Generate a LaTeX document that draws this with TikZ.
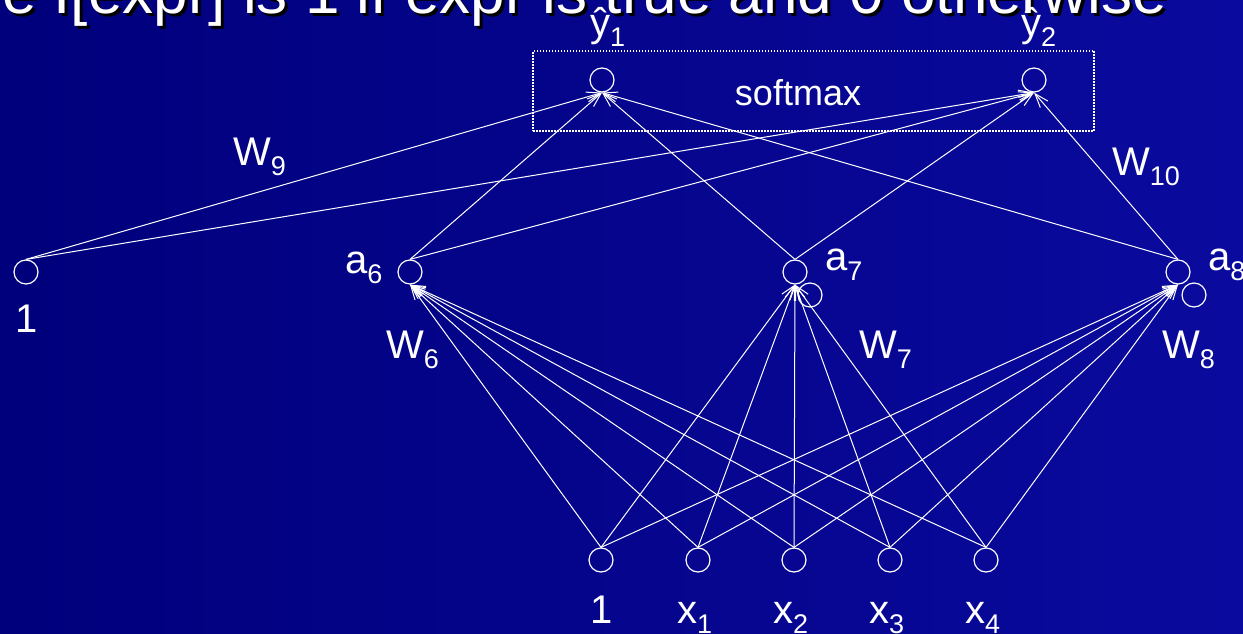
\documentclass[tikz,border=0pt]{standalone}
\usepackage{fontspec}
\setmainfont{Liberation Sans}
\usetikzlibrary{arrows.meta}
\definecolor{bgL}{RGB}{0,0,124}
\definecolor{bgR}{RGB}{10,10,158}
\newcommand\subl[2]{#1\raisebox{-10pt}{\fontsize{27}{27}\selectfont #2}}
\begin{document}
\begin{tikzpicture}[x=1pt,y=-1pt,
  neuron/.style={circle,draw=white,line width=1.2pt,minimum size=24pt,inner sep=0pt},
  lbl/.style={text=white,font=\fontsize{40}{44}\selectfont,inner sep=0pt},
  conn/.style={draw=white,line width=1pt,-{Straight Barb[length=14pt,width=10pt,line width=1pt]}},
  titletxt/.style={anchor=base east,inner sep=0pt,font=\fontsize{62}{70}\selectfont},
]
\useasboundingbox (0,0) rectangle (1243,634);
\shade[left color=bgL,right color=bgR] (0,0) rectangle (1243,634);
\begin{scope}
  \clip (0,0) rectangle (1243,634);
  \node[titletxt,text=black] (titleS) at (1170,17) {e I[expr] is 1 if expr is true and 0 otherwise};
  \node[titletxt,text=white] (title) at (1167,14) {e I[expr] is 1 if expr is true and 0 otherwise};
\end{scope}

% softmax box
\node[draw=white,line width=1.2pt,dash pattern=on 1.5pt off 1.5pt,minimum width=561pt,minimum height=80pt,inner sep=0pt] (box) at (813.5,91) {};
\node[lbl,font=\fontsize{36}{40}\selectfont] (sm) at (798,93) {softmax};

% neurons
\node[neuron] (y1) at (602,80) {};
\node[neuron] (y2) at (1034,80) {};
\node[neuron] (b) at (26,272) {};
\node[neuron] (a6) at (410,272) {};
\node[neuron] (a7) at (795,272) {};
\node[neuron] (a8) at (1178,272) {};
\node[neuron] (e7) at (810,295) {};
\node[neuron] (e8) at (1194,295) {};
\node[neuron] (i0) at (601,560) {};
\node[neuron] (i1) at (698,560) {};
\node[neuron] (i2) at (794,560) {};
\node[neuron] (i3) at (890,560) {};
\node[neuron] (i4) at (986,560) {};

% connectors
\foreach \s in {i0,i1,i2,i3,i4}{
  \foreach \t in {a6,a7,a8}{
    \draw[conn] (\s.north) -- (\t.south);
  }
}
\foreach \s in {b,a6,a7,a8}{
  \foreach \t in {y1,y2}{
    \draw[conn] (\s.north) -- (\t.south);
  }
}

% labels
\node[lbl,anchor=base west] (ly1) at (590,37) {\subl{ŷ}{1}};
\node[lbl,anchor=base west] (ly2) at (1021,37) {\subl{ŷ}{2}};
\node[lbl,anchor=base west] (la6) at (345,273) {\subl{a}{6}};
\node[lbl,anchor=base west] (la7) at (825,270) {\subl{a}{7}};
\node[lbl,anchor=base west] (la8) at (1208,270) {\subl{a}{8}};
\node[lbl,anchor=base] (lb) at (27,332) {1};
\node[lbl,anchor=base west] (w6) at (386,358) {\subl{W}{6}};
\node[lbl,anchor=base west] (w7) at (859,358) {\subl{W}{7}};
\node[lbl,anchor=base west] (w8) at (1162,358) {\subl{W}{8}};
\node[lbl,anchor=base west] (w9) at (233,165) {\subl{W}{9}};
\node[lbl,anchor=base west] (w10) at (1112,175) {\subl{W}{10}};
\node[lbl,anchor=base] (l0) at (602,623) {1};
\node[lbl,anchor=base west] (l1) at (677,623) {\subl{x}{1}};
\node[lbl,anchor=base west] (l2) at (773,623) {\subl{x}{2}};
\node[lbl,anchor=base west] (l3) at (869,623) {\subl{x}{3}};
\node[lbl,anchor=base west] (l4) at (965,623) {\subl{x}{4}};
\end{tikzpicture}
\end{document}
